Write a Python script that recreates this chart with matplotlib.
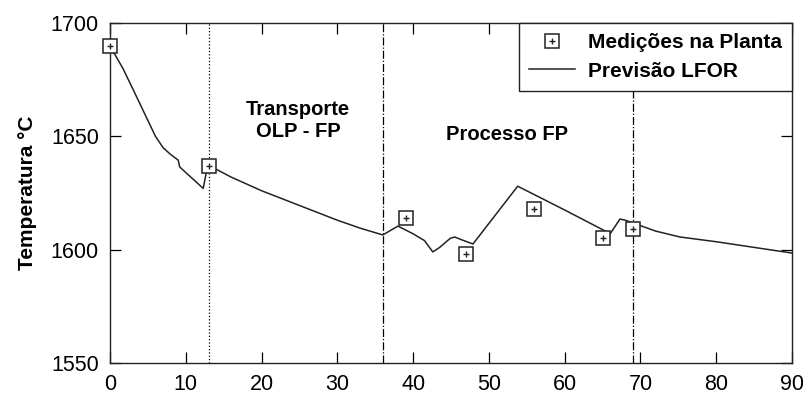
import matplotlib
matplotlib.use("Agg")
import matplotlib.pyplot as plt
from matplotlib.legend_handler import HandlerTuple

plt.rcParams['font.family'] = ['Liberation Sans', 'DejaVu Sans']

# ---- dados ----
tempo_prev = [0, 0.5, 1, 1.7, 3, 4, 5, 6, 7, 8, 9, 9.2, 10, 11, 12.3, 12.9,
              16, 20, 25, 30, 33, 36, 38, 40, 41.5, 42.6, 43.5, 44.9, 45.5,
              46.3, 47.9, 53.8, 60, 65.6, 66, 67.3, 68, 69, 72, 75.2, 80, 85, 90]
temp_prev = [1690, 1687, 1684, 1680, 1671, 1664, 1657, 1650, 1645, 1642, 1639.5,
             1636.5, 1634, 1631, 1627, 1637.4, 1632, 1626, 1619.5, 1613, 1609.5,
             1606.5, 1610.4, 1607, 1604, 1599, 1601, 1605, 1605.6, 1604.5, 1602.5,
             1628, 1617.5, 1607.8, 1607, 1613.5, 1613, 1611.8, 1608.2, 1605.6,
             1603.5, 1601, 1598.5]

tempo_med = [0, 13, 39, 47, 56, 65, 69]
temp_med = [1690, 1637, 1614, 1598, 1618, 1605, 1609]

linhas_v = [13, 36, 69]
estilos_v = [':', '-.', '-.']

fig, ax = plt.subplots(figsize=(8.04, 3.96), dpi=100)
fig.subplots_adjust(left=110/804, right=792/804, top=1-23/396, bottom=1-363/396)

for xv, ls in zip(linhas_v, estilos_v):
    ax.axvline(xv, color='black', lw=0.9, ls=ls)

l_prev, = ax.plot(tempo_prev, temp_prev, color='#222222', lw=1.1)
m_sq, = ax.plot(tempo_med, temp_med, ls='none', marker='s', ms=10,
                mfc='white', mec='#222222', mew=1.1, clip_on=False, zorder=3)
m_pt, = ax.plot(tempo_med, temp_med, ls='none', marker='+', ms=4,
                color='#222222', mew=1.0, clip_on=False, zorder=4)

ax.text(24.8, 1657, 'Transporte\nOLP - FP', ha='center', va='center',
        fontsize=14.5, fontweight='bold', linespacing=1.15)
ax.text(52.4, 1651, 'Processo FP', ha='center', va='center',
        fontsize=14.5, fontweight='bold')

ax.set_xlim(0, 90)
ax.set_ylim(1550, 1700)
ax.set_xticks(range(0, 91, 10))
ax.set_yticks([1550, 1600, 1650, 1700])
ax.tick_params(direction='in', length=8, width=0.9, top=True, right=True,
               labelsize=15.5, pad=8)
ax.set_ylabel('Temperatura °C', fontsize=15, fontweight='bold', labelpad=10)
for s in ax.spines.values():
    s.set_linewidth(1.0)
    s.set_color('#222222')

leg = ax.legend([(m_sq, m_pt), l_prev], ['Medições na Planta', 'Previsão LFOR'],
                handler_map={tuple: HandlerTuple(ndivide=1)},
                loc='upper right', bbox_to_anchor=(1, 1), borderaxespad=0,
                fancybox=False, edgecolor='#222222', framealpha=1,
                prop={'weight': 'bold', 'size': 15}, handlelength=2.2,
                handletextpad=0.6, labelspacing=0.45, borderpad=0.5)
leg.get_frame().set_linewidth(1.0)

fig.savefig('out.png', dpi=100)
